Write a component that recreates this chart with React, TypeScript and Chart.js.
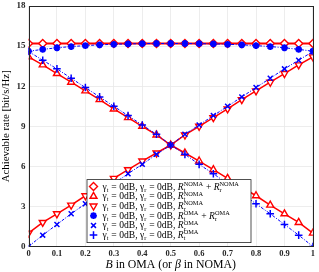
import React, { useEffect, useRef } from 'react';
import { Chart, registerables } from 'chart.js';
import { drawPoint } from 'chart.js/helpers';

Chart.register(...registerables);

// ---- data ----
const bValues = [0, 0.05, 0.1, 0.15, 0.2, 0.25, 0.3, 0.35, 0.4, 0.45, 0.5, 0.55, 0.6, 0.65, 0.7, 0.75, 0.8, 0.85, 0.9, 0.95, 1];
const sumNOMA = [15.2, 15.2, 15.2, 15.2, 15.2, 15.2, 15.2, 15.2, 15.2, 15.2, 15.2, 15.2, 15.2, 15.2, 15.2, 15.2, 15.2, 15.2, 15.2, 15.2, 15.2];
const rtNOMA = [14.2, 13.6, 12.95, 12.3, 11.65, 11.0, 10.3, 9.65, 9.0, 8.35, 7.6, 7.0, 6.4, 5.75, 5.1, 4.45, 3.8, 3.1, 2.45, 1.8, 1.0];
const rrNOMA = [1.0, 1.8, 2.45, 3.1, 3.8, 4.45, 5.1, 5.75, 6.4, 7.0, 7.6, 8.35, 9.0, 9.65, 10.3, 11.0, 11.65, 12.3, 12.95, 13.6, 14.2];
const sumOMA = [14.62, 14.76, 14.88, 14.97, 15.04, 15.1, 15.14, 15.17, 15.19, 15.2, 15.2, 15.2, 15.19, 15.17, 15.14, 15.1, 15.04, 14.97, 14.88, 14.76, 14.62];
const rrOMA = [0, 0.85, 1.65, 2.45, 3.2, 3.95, 4.7, 5.45, 6.15, 6.9, 7.6, 8.4, 9.1, 9.8, 10.5, 11.2, 11.9, 12.6, 13.3, 13.95, 14.6];
const rtOMA = [14.6, 13.95, 13.3, 12.6, 11.9, 11.2, 10.5, 9.8, 9.1, 8.4, 7.6, 6.9, 6.15, 5.45, 4.7, 3.95, 3.2, 2.45, 1.65, 0.85, 0];
const yTickValues = [0, 3, 6, 9, 12, 15, 18];
const xTickLabels = ['0', '0.1', '0.2', '0.3', '0.4', '0.5', '0.6', '0.7', '0.8', '0.9', '1'];
const yTitle = 'Achievable rate [bit/s/Hz]';

type Seg = { t?: string; it?: boolean; sub?: string; sup?: string };
const prefix: Seg[] = [{ t: 'γ' }, { sub: 't' }, { t: ' = 0dB, ' }, { t: 'γ' }, { sub: 'r' }, { t: ' = 0dB, ' }];
const legendRows: Seg[][] = [
  [...prefix, { t: 'R', it: true }, { sub: 't', sup: 'NOMA' }, { t: ' + ' }, { t: 'R', it: true }, { sub: 'r', sup: 'NOMA' }],
  [...prefix, { t: 'R', it: true }, { sub: 't', sup: 'NOMA' }],
  [...prefix, { t: 'R', it: true }, { sub: 'r', sup: 'NOMA' }],
  [...prefix, { t: 'R', it: true }, { sub: 't', sup: 'OMA' }, { t: ' + ' }, { t: 'R', it: true }, { sub: 'r', sup: 'OMA' }],
  [...prefix, { t: 'R', it: true }, { sub: 'r', sup: 'OMA' }],
  [...prefix, { t: 'R', it: true }, { sub: 't', sup: 'OMA' }],
];
const xTitleSegs: Seg[] = [{ t: 'B', it: true }, { t: ' in OMA (or ' }, { t: 'β', it: true }, { t: ' in NOMA)' }];

const RED = '#ff0000';
const BLUE = '#0000ff';
const FONT = '"Liberation Serif", "Times New Roman", serif';

function richWidth(ctx: CanvasRenderingContext2D, segs: Seg[], size: number) {
  let w = 0;
  for (const s of segs) {
    if (s.t !== undefined) {
      ctx.font = `${s.it ? 'italic ' : ''}${size}px ${FONT}`;
      w += ctx.measureText(s.t).width;
    } else {
      ctx.font = `${size * 0.65}px ${FONT}`;
      const a = s.sub ? ctx.measureText(s.sub).width : 0;
      ctx.font = `${size * 0.66}px ${FONT}`;
      const b = s.sup ? ctx.measureText(s.sup).width : 0;
      w += Math.max(a, b) + 0.5;
    }
  }
  return w;
}

function drawRich(ctx: CanvasRenderingContext2D, segs: Seg[], x: number, y: number, size: number) {
  ctx.textBaseline = 'alphabetic';
  ctx.textAlign = 'left';
  let cx = x;
  for (const s of segs) {
    if (s.t !== undefined) {
      ctx.font = `${s.it ? 'italic ' : ''}${size}px ${FONT}`;
      ctx.fillText(s.t, cx, y);
      cx += ctx.measureText(s.t).width;
    } else {
      let a = 0;
      let b = 0;
      if (s.sub) {
        ctx.font = `${size * 0.65}px ${FONT}`;
        ctx.fillText(s.sub, cx, y + size * 0.22);
        a = ctx.measureText(s.sub).width;
      }
      if (s.sup) {
        ctx.font = `${size * 0.66}px ${FONT}`;
        ctx.fillText(s.sup, cx, y - size * 0.38);
        b = ctx.measureText(s.sup).width;
      }
      cx += Math.max(a, b) + 0.5;
    }
  }
}

const markerDefs = [
  { style: 'rectRot', color: RED, fill: '#ffffff', r: 4, rot: 0, bw: 1.4 },
  { style: 'triangle', color: RED, fill: '#ffffff', r: 4, rot: 0, bw: 1.4 },
  { style: 'triangle', color: RED, fill: '#ffffff', r: 4, rot: 180, bw: 1.4 },
  { style: 'star', color: BLUE, fill: BLUE, r: 3.4, rot: 0, bw: 2.1 },
  { style: 'crossRot', color: BLUE, fill: BLUE, r: 3.5, rot: 0, bw: 1.5 },
  { style: 'cross', color: BLUE, fill: BLUE, r: 3.8, rot: 0, bw: 1.5 },
];

const overlayPlugin = {
  id: 'overlay',
  afterDatasetsDraw(chart: any) {
    const { ctx, chartArea } = chart;
    ctx.save();
    ctx.strokeStyle = '#262626';
    ctx.lineWidth = 1;
    ctx.strokeRect(Math.round(chartArea.left) + 0.5, Math.round(chartArea.top) + 0.5, Math.round(chartArea.right - chartArea.left), Math.round(chartArea.bottom - chartArea.top));
    ctx.restore();
  },
  afterDraw(chart: any) {
    const { ctx, chartArea } = chart;
    ctx.save();
    // legend box
    const bx = chartArea.left + 58.5;
    const by = chartArea.top + 173.5;
    const bw = 164;
    const bh = 63;
    ctx.fillStyle = '#ffffff';
    ctx.fillRect(bx, by, bw, bh);
    ctx.strokeStyle = '#262626';
    ctx.lineWidth = 0.8;
    ctx.strokeRect(bx, by, bw, bh);
    legendRows.forEach((row, i) => {
      const cy = by + 7 + i * 9.7;
      const m = markerDefs[i];
      ctx.fillStyle = m.fill;
      ctx.strokeStyle = m.color;
      ctx.lineWidth = m.bw;
      drawPoint(ctx, { pointStyle: m.style, radius: m.r, rotation: m.rot, borderWidth: m.bw } as any, bx + 6.5, cy);
      ctx.fillStyle = '#000000';
      drawRich(ctx, row, bx + 15.5, cy + 3, 9.6);
    });
    // x title
    const size = 11.8;
    const w = richWidth(ctx, xTitleSegs, size);
    ctx.fillStyle = '#000000';
    drawRich(ctx, xTitleSegs, (chartArea.left + chartArea.right) / 2 - w / 2, chartArea.bottom + 21, size);
    ctx.restore();
  },
};

export default function App() {
  const ref = useRef<HTMLCanvasElement | null>(null);
  useEffect(() => {
    if (!ref.current) return;
    const mk = (label: string, ys: number[], i: number, dash: number[], lw: number) => {
      const m = markerDefs[i];
      return {
        label,
        data: bValues.map((x, k) => ({ x, y: ys[k] })),
        borderColor: m.color,
        backgroundColor: m.fill,
        borderWidth: lw,
        borderDash: dash,
        pointStyle: m.style,
        pointRadius: m.r,
        pointRotation: m.rot,
        pointBorderWidth: m.bw,
        pointBorderColor: m.color,
        pointBackgroundColor: m.fill,
        tension: 0,
      };
    };
    const chart = new Chart(ref.current, {
      type: 'line',
      data: {
        datasets: [
          mk('sumOMA', sumOMA, 3, [3, 1.5, 1, 1.5], 1),
          mk('rrOMA', rrOMA, 4, [3, 1.5, 1, 1.5], 1),
          mk('rtOMA', rtOMA, 5, [3, 1.5, 1, 1.5], 1),
          mk('sumNOMA', sumNOMA, 0, [], 2),
          mk('rtNOMA', rtNOMA, 1, [], 1.5),
          mk('rrNOMA', rrNOMA, 2, [], 1.5),
        ],
      },
      options: {
        animation: false,
        responsive: false,
        maintainAspectRatio: false,
        layout: { padding: { left: 0, right: 5, top: 4.5, bottom: 0 } },
        plugins: { legend: { display: false }, tooltip: { enabled: false } },
        scales: {
          x: {
            type: 'linear',
            min: 0,
            max: 1,
            afterFit: (s: any) => { s.height = 25.5; s.paddingLeft = 0; s.paddingRight = 0; },
            afterBuildTicks: (s: any) => { s.ticks = xTickLabels.map((l) => ({ value: parseFloat(l) })); },
            ticks: {
              callback: (v: any) => xTickLabels.find((l) => Math.abs(parseFloat(l) - v) < 1e-6) ?? '',
              font: { family: FONT, size: 8.5, weight: 'bold' },
              color: '#262626',
              padding: 2,
              maxRotation: 0,
              autoSkip: false,
            },
            grid: { color: '#e8e8e8', drawTicks: false, lineWidth: 0.8 },
            border: { display: false },
          },
          y: {
            type: 'linear',
            min: 0,
            max: 18,
            afterFit: (s: any) => { s.width = 28.5; s.paddingTop = 0; s.paddingBottom = 0; },
            afterBuildTicks: (s: any) => { s.ticks = yTickValues.map((v) => ({ value: v })); },
            ticks: {
              font: { family: FONT, size: 9, weight: 'bold' },
              color: '#262626',
              padding: 3,
              autoSkip: false,
            },
            grid: { color: '#e8e8e8', drawTicks: false, lineWidth: 0.8 },
            border: { display: false },
            title: {
              display: true,
              text: yTitle,
              font: { family: FONT, size: 10.8 },
              color: '#000000',
              padding: 0,
            },
          },
        },
      },
      plugins: [overlayPlugin],
    } as any);
    return () => chart.destroy();
  }, []);
  return (
    <div style={{ position: 'fixed', left: 0, top: 0, width: 319, height: 272, background: '#ffffff' }}>
      <canvas ref={ref} width={319} height={272} style={{ width: 319, height: 272, display: 'block' }} />
    </div>
  );
}
